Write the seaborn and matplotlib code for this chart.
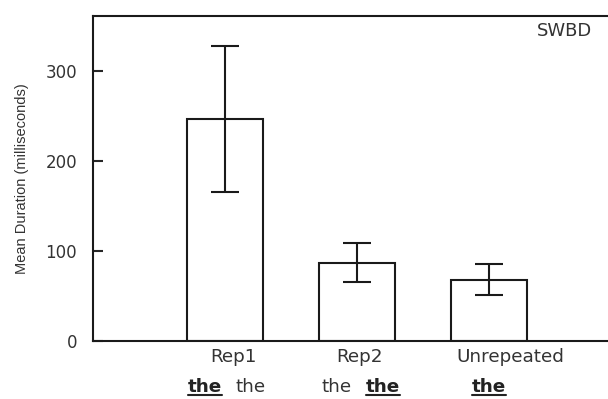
import numpy as np
import pandas as pd
import matplotlib
matplotlib.use("Agg")
import matplotlib.pyplot as plt
import matplotlib.transforms as mtransforms
import seaborn as sns
from matplotlib.lines import Line2D

categories = ["Rep1", "Rep2", "Unrepeated"]
mean_duration = [247, 87, 68]
error = [81, 22, 17]
# second label row: (word, emphasised)
word_rows = [
    [("the", True), ("the", False)],
    [("the", False), ("the", True)],
    [("the", True)],
]

sns.set_theme(style="white")
plt.rcParams["font.family"] = ["DejaVu Sans"]
txt = "#333333"
ink = "#1a1a1a"

fig = plt.figure(figsize=(6.08, 3.99), dpi=100)
# axes runs past the right edge of the figure, as in the reference
ax = fig.add_axes([93 / 608, 58 / 399, 528 / 608, 325 / 399])

df = pd.DataFrame({"cond": categories, "dur": mean_duration})
sns.barplot(data=df, x="cond", y="dur", color="white", edgecolor=ink,
            linewidth=1.5, width=0.57, errorbar=None, ax=ax)
ax.errorbar(np.arange(len(categories)), mean_duration, yerr=error, fmt="none",
            ecolor=ink, elinewidth=1.5, capsize=10.4, capthick=1.5)

ax.set_xlim(-1, 3)
ax.set_ylim(0, 361)
ax.set_yticks([0, 100, 200, 300])
ax.tick_params(axis="y", direction="in", length=7, width=1.5, labelsize=12,
               labelcolor=txt, left=True, pad=11.5)
ax.tick_params(axis="x", length=0, labelsize=13.2, labelcolor=txt, pad=5)
ax.set_xlabel("")
ax.set_ylabel("Mean Duration (milliseconds)", fontsize=10.5, color=txt,
              labelpad=12, family=["Liberation Sans"])
for s in ax.spines.values():
    s.set_color(ink)
    s.set_linewidth(1.5)

# the category labels in the original are not quite centred under the bars
label_shift_px = [8, 3, 21]
for lab, dx in zip(ax.get_xticklabels(), label_shift_px):
    lab.set_transform(lab.get_transform() +
                      mtransforms.ScaledTranslation(dx / 100, 0, fig.dpi_scale_trans))

ax.annotate("SWBD", xy=(592 / 608, 1 - 31 / 399), xycoords="figure fraction",
            ha="right", va="center", fontsize=13, color=txt)

# second row of labels with underlined emphasised words
fig.canvas.draw()
renderer = fig.canvas.get_renderer()
texts = []
for i, words in enumerate(word_rows):
    n = len(words)
    for j, (w, emph) in enumerate(words):
        off = (j - (n - 1) / 2) * 33 + (2 if n > 1 else 0)
        t = ax.annotate(w, xy=(i, 0), xycoords=("data", "axes fraction"),
                        xytext=(off, -33), textcoords="offset points",
                        ha="center", va="center", fontsize=13.2,
                        color="#222222" if emph else txt,
                        fontweight="bold" if emph else "normal",
                        annotation_clip=False)
        texts.append((t, emph))
fig.canvas.draw()
for t, emph in texts:
    if emph:
        bb = t.get_window_extent(renderer).transformed(fig.transFigure.inverted())
        y = bb.y0 + 1.0 / 399
        fig.add_artist(Line2D([bb.x0, bb.x1], [y, y], color="#222222", lw=1.5,
                              transform=fig.transFigure))

fig.savefig("out.png", dpi=100)
